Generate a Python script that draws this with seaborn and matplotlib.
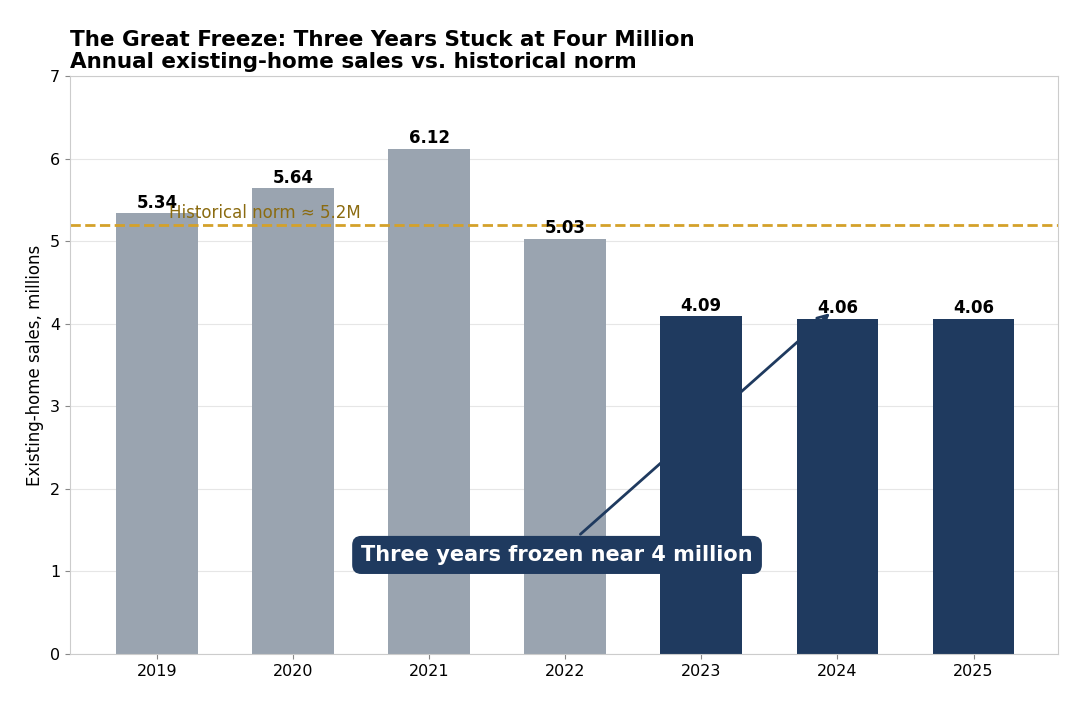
import matplotlib
matplotlib.use("Agg")
import matplotlib.pyplot as plt
import seaborn as sns
import pandas as pd

# data
years = ["2019", "2020", "2021", "2022", "2023", "2024", "2025"]
sales = [5.34, 5.64, 6.12, 5.03, 4.09, 4.06, 4.06]
frozen = [False, False, False, False, True, True, True]
norm = 5.2

GRAY = "#9aa4b0"
NAVY = "#1f3a5f"
GOLD = "#d4a12a"

df = pd.DataFrame({"year": years, "sales": sales,
                   "group": ["frozen" if f else "normal" for f in frozen]})

sns.set_style("whitegrid", {"grid.color": "#e6e6e6", "axes.edgecolor": "#cccccc",
                            "text.color": "black", "xtick.color": "black",
                            "ytick.color": "black", "axes.labelcolor": "black"})
plt.rcParams["font.family"] = ["DejaVu Sans"]

fig, ax = plt.subplots(figsize=(10.74, 7.04), dpi=100)
fig.subplots_adjust(left=0.065, right=0.985, top=0.892, bottom=0.071)

sns.barplot(data=df, x="year", y="sales", hue="group",
            palette={"normal": GRAY, "frozen": NAVY}, width=0.6, saturation=1,
            dodge=False, legend=False, linewidth=0, ax=ax)

for c in ax.containers:
    ax.bar_label(c, fmt="%.2f", fontsize=12, fontweight="bold", padding=1, color="black")

ax.axhline(norm, color=GOLD, linestyle="--", linewidth=2)
ax.text(0.09, norm + 0.03, "Historical norm \u2248 5.2M", color="#8b6b10",
        fontsize=12, ha="left", va="bottom")

ax.annotate("Three years frozen near 4 million", xy=(4.96, 4.15), xytext=(2.94, 1.2),
            fontsize=15, fontweight="bold", color="white", ha="center", va="center",
            bbox=dict(boxstyle="round,pad=0.4", fc=NAVY, ec=NAVY),
            arrowprops=dict(arrowstyle="->", color=NAVY, lw=2, mutation_scale=18))

ax.set_xlim(-0.64, 6.62)
ax.set_ylim(0, 7)
ax.set_xlabel("")
ax.set_ylabel("Existing-home sales, millions", fontsize=12)
ax.tick_params(labelsize=11.5, left=True, bottom=True, color="#888888")
for s in ax.spines.values():
    s.set_visible(True)
    s.set_color("#cccccc")
ax.set_title("The Great Freeze: Three Years Stuck at Four Million\n"
             "Annual existing-home sales vs. historical norm",
             loc="left", fontsize=15.5, fontweight="bold", linespacing=1.1,
             color="black", pad=6)

fig.savefig("out.png", dpi=100)
